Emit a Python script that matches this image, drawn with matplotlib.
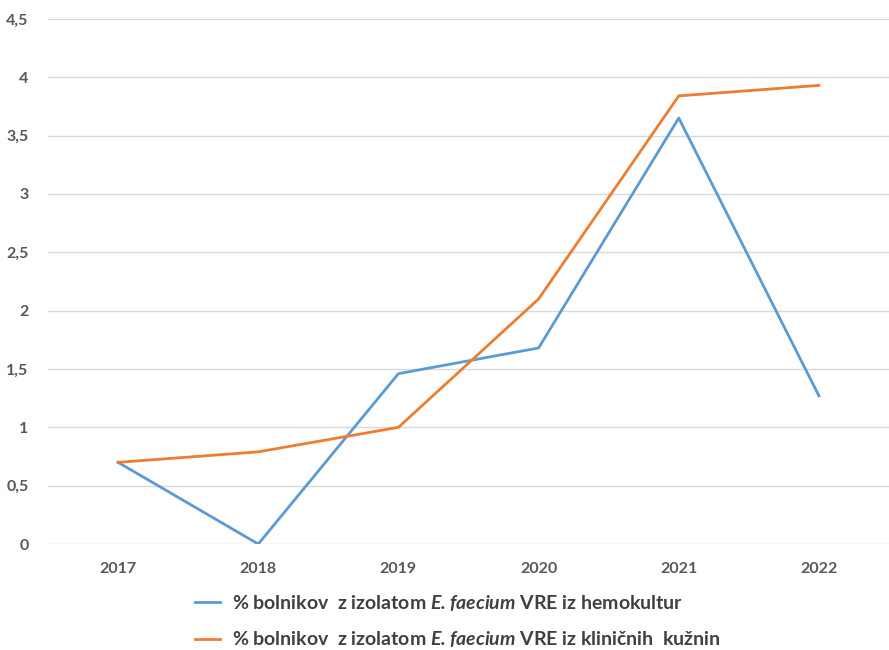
import matplotlib
matplotlib.use("Agg")
import matplotlib.pyplot as plt

years = ["2017", "2018", "2019", "2020", "2021", "2022"]
blood = [0.70, 0.0, 1.46, 1.68, 3.65, 1.27]
clinical = [0.70, 0.79, 1.0, 2.10, 3.84, 3.93]
yticks = [0, 0.5, 1, 1.5, 2, 2.5, 3, 3.5, 4, 4.5]

label_blood = r"% bolnikov  z izolatom $\mathbfit{E.faecium}$ VRE iz hemokultur"
label_clin = r"% bolnikov  z izolatom $\mathbfit{E.faecium}$ VRE iz kliničnih  kužnin"

plt.rcParams['font.family'] = ['Lato', 'DejaVu Sans']
plt.rcParams['mathtext.fontset'] = 'custom'
plt.rcParams['mathtext.bfit'] = 'Lato:italic:bold'
plt.rcParams['mathtext.bf'] = 'Lato:bold'
plt.rcParams['mathtext.rm'] = 'Lato:bold'

fig = plt.figure(figsize=(8.89, 6.5), dpi=100)
ax = fig.add_axes([0.054, 0.163, 0.946, 0.808])

x = list(range(len(years)))
ax.plot(x, blood, color="#5B9BD5", lw=2.0, label=label_blood)
ax.plot(x, clinical, color="#ED7D31", lw=2.0, label=label_clin)

ax.set_xlim(-0.5, 5.5)
ax.set_ylim(0, 4.5)
ax.set_xticks(x)
ax.set_xticklabels(years)
ax.set_yticks(yticks)
ax.set_yticklabels([f"{v:g}".replace(".", ",") for v in yticks])
ax.grid(axis="y", color="#D9D9D9", lw=1)
ax.set_axisbelow(True)
for s in ax.spines.values():
    s.set_visible(False)
ax.tick_params(length=0, labelsize=11.5, labelcolor="#595959")
ax.tick_params(axis="x", pad=13)
ax.tick_params(axis="y", pad=14)
for t in ax.get_xticklabels() + ax.get_yticklabels():
    t.set_fontweight("bold")

leg = fig.legend(loc="upper left", bbox_to_anchor=(0.219, 0.088), frameon=False,
                 prop={"weight": "bold", "size": 14}, labelcolor="#404040",
                 handlelength=1.3, handletextpad=0.6, labelspacing=0.85,
                 borderaxespad=0, borderpad=0)

fig.savefig("out.png", dpi=100)
